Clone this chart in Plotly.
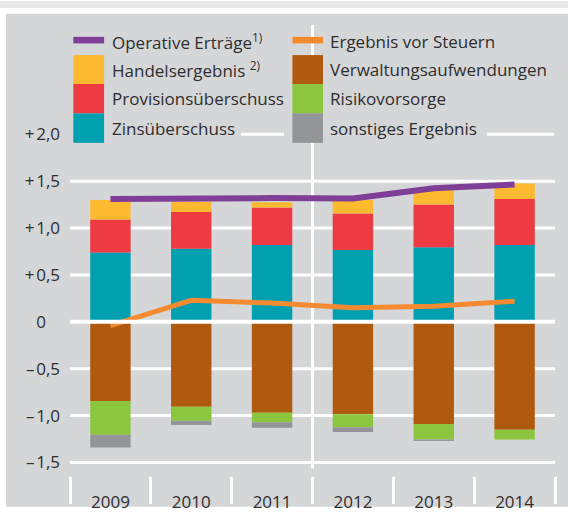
import plotly.graph_objects as go

# ---------------- data ----------------
years = ["2009", "2010", "2011", "2012", "2013", "2014"]

zinsueberschuss = [0.74, 0.78, 0.82, 0.765, 0.795, 0.82]
provisionsueberschuss = [0.35, 0.39, 0.40, 0.39, 0.455, 0.49]
handelsergebnis = [0.21, 0.11, 0.055, 0.145, 0.16, 0.165]
verwaltungsaufwendungen = [-0.845, -0.905, -0.97, -0.985, -1.09, -1.15]
risikovorsorge = [-0.36, -0.15, -0.10, -0.14, -0.165, -0.105]
sonstiges_ergebnis = [-0.135, -0.045, -0.06, -0.05, -0.015, 0.0]
operative_ertraege = [1.31, 1.32, 1.32, 1.315, 1.425, 1.465]
ergebnis_vor_steuern = [-0.04, 0.23, 0.20, 0.15, 0.165, 0.22]

y_tickvals = [-1.5, -1.0, -0.5, 0.0, 0.5, 1.0, 1.5, 2.0]
y_ticktext = ["\u2013\u200a1,5", "\u2013\u200a1,0", "\u2013\u200a0,5",
              "0<span style='color:rgba(0,0,0,0)'>,5</span>",
              "+\u200a0,5", "+\u200a1,0", "+\u200a1,5", "+\u200a2,0"]

names = {
    "ops": "Operative Erträge<sup>1)</sup>",
    "evs": "Ergebnis vor Steuern",
    "han": "Handelsergebnis <sup>2)</sup>",
    "ver": "Verwaltungsaufwendungen",
    "pro": "Provisionsüberschuss",
    "ris": "Risikovorsorge",
    "zin": "Zinsüberschuss",
    "son": "sonstiges Ergebnis",
}
colors = {
    "ops": "#7f3f98",
    "evs": "#f58a31",
    "han": "#fdb92f",
    "ver": "#b05a10",
    "pro": "#ee3a43",
    "ris": "#8cc63f",
    "zin": "#00a0b0",
    "son": "#939598",
}

# ---------------- geometry ----------------
W, H = 568, 525
L, R, T, B = 70, 13, 25, 32
PW, PH = W - L - R, H - T - B
Y0PX, PXU = 333.0, 97.3
y_range = [-(H - B - Y0PX) / PXU, (Y0PX - T) / PXU]

def xp(px):
    return (px - L) / PW

def yp(py):
    return (H - B - py) / PH

FONT = "Open Sans, Noto Sans, DejaVu Sans, sans-serif"
TXT = "#2e2e2e"
PANEL = "#d5d6d8"

fig = go.Figure()

bar_series = [
    ("zin", zinsueberschuss),
    ("pro", provisionsueberschuss),
    ("han", handelsergebnis),
    ("ver", verwaltungsaufwendungen),
    ("ris", risikovorsorge),
    ("son", sonstiges_ergebnis),
]
for key, vals in bar_series:
    fig.add_trace(go.Bar(x=years, y=vals, name=names[key], marker_color=colors[key],
                         marker_line_width=0, showlegend=False))

fig.add_trace(go.Scatter(x=years, y=operative_ertraege, mode="lines", name=names["ops"],
                         line=dict(color=colors["ops"], width=6), showlegend=False))
fig.add_trace(go.Scatter(x=years, y=ergebnis_vor_steuern, mode="lines", name=names["evs"],
                         line=dict(color=colors["evs"], width=5), showlegend=False))

shapes = []
# background bands
shapes.append(dict(type="rect", xref="paper", yref="paper", x0=xp(0), x1=xp(W), y0=yp(0), y1=yp(7.3),
                   fillcolor="#e9e9eb", line_width=0, layer="below"))
shapes.append(dict(type="rect", xref="paper", yref="paper", x0=xp(6), x1=xp(W), y0=yp(13.3), y1=yp(H),
                   fillcolor=PANEL, line_width=0, layer="below"))
# gridlines
for v in y_tickvals:
    if v in (0.0, 2.0):
        continue
    shapes.append(dict(type="line", xref="paper", yref="y", x0=0, x1=1, y0=v, y1=v,
                       line=dict(color="white", width=3), layer="below"))
# visible pieces of the +2,0 gridline (rest hidden behind legend)
for a, b in [(241, 284), (487, 554)]:
    shapes.append(dict(type="line", xref="paper", yref="y", x0=xp(a), x1=xp(b), y0=2.0, y1=2.0,
                       line=dict(color="white", width=3), layer="below"))
# vertical separator between 2011 and 2012
shapes.append(dict(type="line", xref="x", yref="y", x0=2.5, x1=2.5, y0=-1.565, y1=y_range[1],
                   line=dict(color="white", width=3), layer="below"))
# zero line above bars
shapes.append(dict(type="line", xref="paper", yref="y", x0=0, x1=1, y0=0, y1=0,
                   line=dict(color="white", width=4), layer="above"))

# custom legend
annotations = []
legend_rows = [("ops", "evs"), ("han", "ver"), ("pro", "ris"), ("zin", "son")]
row_centers = [41.7, 71.5, 101.5, 132.0]
col_x = [(73.3, 104.1, 110.0), (292.4, 323.0, 327.5)]
for r, (pair, cy) in enumerate(zip(legend_rows, row_centers)):
    for c, key in enumerate(pair):
        sx0, sx1, tx = col_x[c]
        if key in ("ops", "evs"):
            shapes.append(dict(type="rect", xref="paper", yref="paper", x0=xp(sx0), x1=xp(sx1),
                               y0=yp(cy + 2.4), y1=yp(cy - 4.4), fillcolor=colors[key],
                               line_width=0, layer="above"))
        else:
            shapes.append(dict(type="rect", xref="paper", yref="paper", x0=xp(sx0), x1=xp(sx1),
                               y0=yp(cy + 15.3), y1=yp(cy - 15.3), fillcolor=colors[key],
                               line_width=0, layer="above"))
        annotations.append(dict(xref="paper", yref="paper", x=xp(tx), y=yp(cy), text=names[key],
                                xanchor="left", yanchor="middle", showarrow=False,
                                font=dict(family=FONT, size=17, color=TXT)))

fig.update_layout(
    width=W, height=H,
    margin=dict(l=L, r=R, t=T, b=B, pad=0),
    paper_bgcolor="white",
    plot_bgcolor=PANEL,
    barmode="relative",
    bargap=0.5,
    showlegend=False,
    shapes=shapes,
    annotations=annotations,
    font=dict(family=FONT, size=17, color=TXT),
    xaxis=dict(type="category", range=[-0.5, 5.5], tickson="boundaries", ticks="outside",
               ticklen=27, tickwidth=3, tickcolor="white", showgrid=False, showline=False,
               zeroline=False, tickfont=dict(family=FONT, size=17, color=TXT),
               ticklabelstandoff=14, fixedrange=True),
    yaxis=dict(range=y_range, tickvals=y_tickvals, ticktext=y_ticktext, showgrid=False,
               zeroline=False, showline=False, ticks="", ticklabelstandoff=9,
               tickfont=dict(family=FONT, size=17, color=TXT), fixedrange=True),
)

fig.write_html("out.html", config={"displayModeBar": False, "staticPlot": True},
               post_script="document.body.style.margin='0px';document.body.style.overflow='hidden';")
